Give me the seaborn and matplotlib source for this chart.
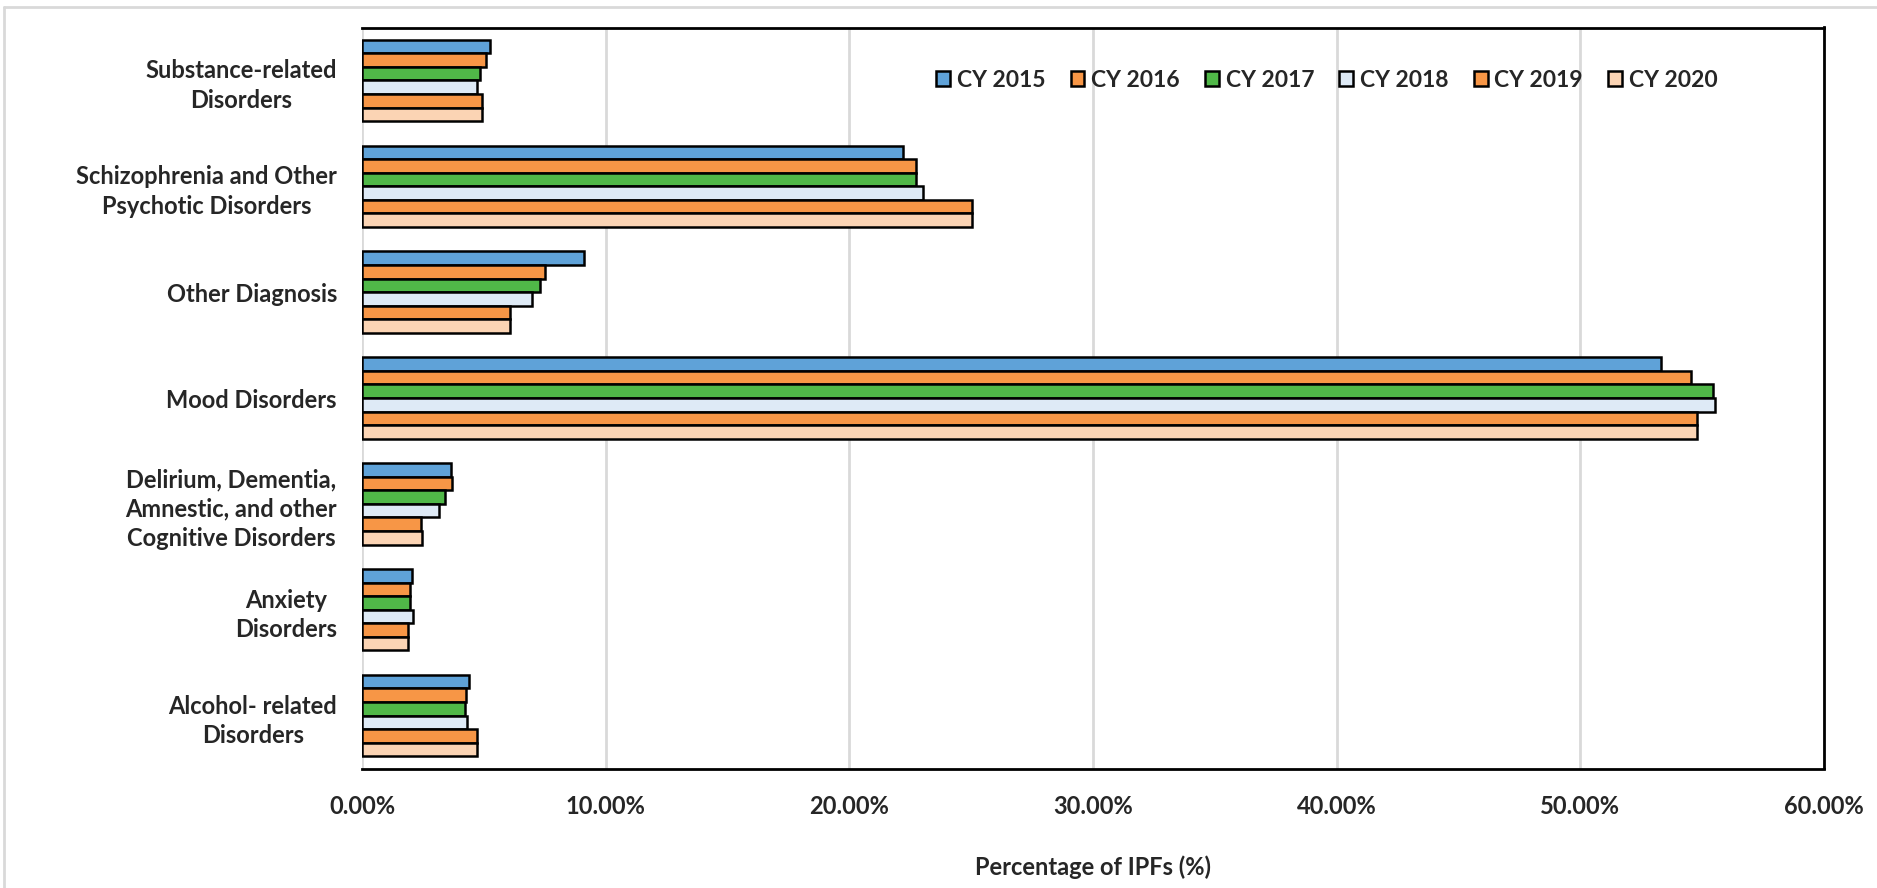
import matplotlib
matplotlib.use("Agg")
import matplotlib.pyplot as plt
from matplotlib.lines import Line2D
from matplotlib.ticker import FuncFormatter, MultipleLocator
import seaborn as sns
import pandas as pd

categories = [
    "Substance-related\nDisorders",
    "Schizophrenia and Other\nPsychotic Disorders",
    "Other Diagnosis",
    "Mood Disorders",
    "Delirium, Dementia,\nAmnestic, and other\nCognitive Disorders",
    "Anxiety\nDisorders",
    "Alcohol- related\nDisorders",
]
years = ["CY 2015", "CY 2016", "CY 2017", "CY 2018", "CY 2019", "CY 2020"]

cy2015 = [5.26, 22.20, 9.11, 53.32, 3.64, 2.07, 4.38]
cy2016 = [5.08, 22.74, 7.53, 54.55, 3.70, 1.97, 4.28]
cy2017 = [4.85, 22.74, 7.31, 55.45, 3.42, 1.97, 4.24]
cy2018 = [4.74, 23.04, 6.98, 55.53, 3.18, 2.11, 4.30]
cy2019 = [4.94, 25.05, 6.08, 54.80, 2.42, 1.88, 4.70]
cy2020 = [4.94, 25.05, 6.08, 54.80, 2.45, 1.89, 4.70]

colors = ["#5FA2D8", "#F79646", "#50B848", "#DEEAF6", "#F79646", "#FBD4B4"]

series = [cy2015, cy2016, cy2017, cy2018, cy2019, cy2020]
rows = []
for yr, vals in zip(years, series):
    for cat, v in zip(categories, vals):
        rows.append({"Category": cat, "Year": yr, "Value": v})
df = pd.DataFrame(rows)

sns.set_style("white")
plt.rcParams["font.family"] = ["Lato", "DejaVu Sans"]
plt.rcParams["font.weight"] = "bold"

fig = plt.figure(figsize=(18.77, 8.88), dpi=100)
ax = fig.add_axes([362 / 1877, 1 - 768.5 / 888, (1824 - 362) / 1877, (768.5 - 27.5) / 888])

sns.barplot(data=df, y="Category", x="Value", hue="Year", order=categories,
            hue_order=years, palette=colors, saturation=1, orient="h", width=0.77,
            edgecolor="black", linewidth=1.8, ax=ax, legend=True)

ax.set_xlim(0, 60)
ax.set_ylim(6.5, -0.5)
ax.xaxis.set_major_locator(MultipleLocator(10))
ax.xaxis.set_major_formatter(FuncFormatter(lambda x, p: f"{x:.2f}%"))
ax.grid(axis="x", color="#D9D9D9", linewidth=2)
ax.grid(axis="y", visible=False)
ax.set_axisbelow(True)

for s in ["top", "right", "bottom"]:
    ax.spines[s].set_visible(True)
    ax.spines[s].set_color("black")
    ax.spines[s].set_linewidth(2)
ax.spines["left"].set_visible(False)

ax.tick_params(axis="both", length=0, labelsize=17)
ax.tick_params(axis="x", pad=19)
ax.tick_params(axis="y", pad=18)
for lbl in ax.get_yticklabels():
    lbl.set_fontweight("bold")
    lbl.set_multialignment("center")
    lbl.set_linespacing(1.35)
for lbl in ax.get_xticklabels():
    lbl.set_fontweight("bold")

ax.set_ylabel("")
ax.set_xlabel("Percentage of IPFs (%)", fontsize=17, fontweight="bold")
ax.xaxis.set_label_coords(0.5, (768.5 - 855) / 741)

handles, labels = ax.get_legend_handles_labels()
ax.legend(handles, labels, ncol=6, frameon=False, loc="center",
          bbox_to_anchor=(0.66, 0.929), handlelength=0.6, handleheight=0.6,
          handletextpad=0.3, columnspacing=1.1,
          prop={"size": 16.5, "weight": "bold"})

fig.add_artist(Line2D([4 / 1877, 4 / 1877], [0, 1 - 7 / 888], transform=fig.transFigure,
                      color="#D9D9D9", linewidth=2))
fig.add_artist(Line2D([4 / 1877, 1], [1 - 7 / 888, 1 - 7 / 888], transform=fig.transFigure,
                      color="#D9D9D9", linewidth=2))

fig.savefig("out.png", dpi=100)
